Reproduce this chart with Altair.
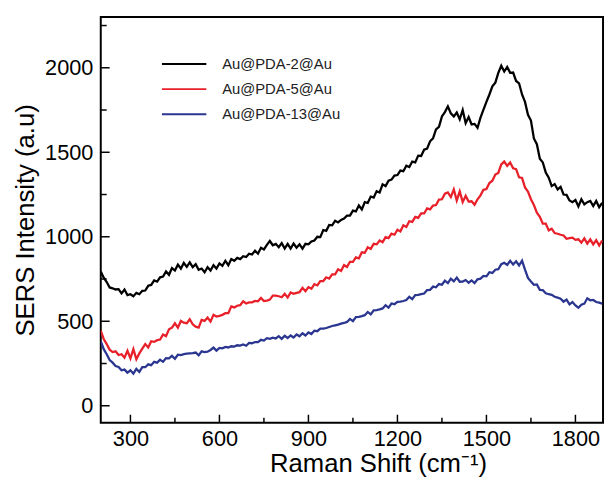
import altair as alt
import pandas as pd

x_start, x_step = 200, 10

black = [795, 758, 732, 700, 695, 688, 690, 665, 688, 655, 660, 648, 668, 660, 680, 682, 710, 715, 742, 735,
         760, 765, 795, 775, 815, 800, 835, 812, 845, 822, 848, 820, 838, 805, 812, 790, 820, 800, 832, 812,
         842, 828, 858, 832, 868, 858, 875, 868, 885, 880, 900, 895, 918, 900, 935, 925, 952, 975, 950, 958,
         938, 962, 930, 958, 930, 960, 935, 955, 930, 958, 955, 972, 978, 1000, 998, 1040, 1035, 1070, 1068, 1095,
         1085, 1100, 1108, 1125, 1125, 1155, 1150, 1185, 1162, 1205, 1200, 1238, 1232, 1270, 1262, 1310, 1300, 1332, 1338, 1362,
         1365, 1392, 1388, 1420, 1412, 1445, 1440, 1480, 1478, 1515, 1522, 1565, 1582, 1635, 1650, 1712, 1738, 1772, 1730, 1712,
         1735, 1695, 1750, 1672, 1708, 1665, 1668, 1645, 1705, 1752, 1798, 1842, 1890, 1912, 1970, 2012, 1978, 2005, 1970, 1972,
         1922, 1908, 1842, 1798, 1722, 1688, 1582, 1548, 1462, 1440, 1380, 1350, 1300, 1312, 1280, 1295, 1250, 1248, 1215, 1205,
         1218, 1180, 1222, 1192, 1205, 1212, 1182, 1212, 1175, 1200]

red = [445, 395, 365, 332, 318, 322, 300, 305, 285, 325, 280, 335, 275, 310, 338, 365, 345, 382, 378, 388,
       392, 422, 412, 452, 462, 488, 462, 502, 492, 488, 512, 482, 468, 462, 508, 502, 522, 498, 538, 528,
       532, 538, 548, 548, 588, 582, 592, 595, 618, 605, 612, 612, 620, 618, 638, 620, 622, 628, 652, 652,
       648, 642, 662, 640, 670, 662, 668, 672, 698, 678, 702, 692, 720, 712, 738, 738, 760, 752, 778, 778,
       808, 798, 832, 822, 852, 852, 878, 872, 908, 905, 938, 928, 958, 955, 978, 968, 998, 992, 1018, 1012,
       1042, 1032, 1068, 1058, 1092, 1088, 1118, 1112, 1138, 1138, 1168, 1162, 1185, 1188, 1220, 1222, 1255, 1262, 1235, 1280,
       1215, 1268, 1205, 1242, 1208, 1210, 1190, 1222, 1245, 1278, 1282, 1318, 1332, 1368, 1378, 1428, 1445, 1420, 1440, 1405,
       1400, 1352, 1348, 1292, 1268, 1222, 1188, 1142, 1118, 1078, 1078, 1038, 1048, 1022, 1018, 1012, 1008, 988, 992, 995,
       982, 985, 965, 990, 960, 985, 955, 980, 948, 978]

blue = [382, 335, 305, 270, 255, 235, 230, 210, 214, 196, 210, 190, 218, 200, 228, 228, 245, 240, 260, 255,
        272, 260, 282, 280, 295, 278, 302, 300, 305, 308, 310, 312, 315, 298, 322, 318, 320, 330, 344, 326,
        342, 340, 348, 345, 352, 350, 358, 356, 363, 355, 372, 370, 377, 376, 390, 386, 400, 396, 403, 398,
        412, 396, 414, 401, 416, 404, 422, 411, 429, 416, 434, 424, 444, 441, 456, 456, 460, 466, 472, 476,
        480, 486, 490, 496, 514, 501, 525, 526, 530, 536, 555, 541, 565, 566, 570, 576, 595, 581, 605, 601,
        615, 616, 620, 626, 645, 631, 655, 656, 660, 664, 685, 686, 705, 701, 720, 716, 740, 726, 752, 736,
        758, 734, 735, 744, 728, 742, 726, 748, 752, 768, 766, 790, 786, 805, 808, 838, 846, 834, 858, 836,
        855, 830, 858, 805, 756, 735, 716, 718, 686, 684, 666, 660, 656, 645, 640, 634, 616, 628, 600, 614,
        594, 580, 598, 604, 636, 624, 626, 614, 610, 604]

series_names = ["Au@PDA-2@Au", "Au@PDA-5@Au", "Au@PDA-13@Au"]
series_colors = ["#000000", "#e8202a", "#2b3690"]

x_major = [300, 600, 900, 1200, 1500, 1800]
x_minor = [450, 750, 1050, 1350, 1650]
y_major = [0, 500, 1000, 1500, 2000]
y_minor = [250, 750, 1250, 1750, 2250]

rows = []
for name, vals in zip(series_names, [black, red, blue]):
    for i, v in enumerate(vals):
        rows.append({"shift": x_start + i * x_step, "intensity": v, "sample": name})
df = pd.DataFrame(rows)

W, H = 509, 411
xs = alt.Scale(domain=[200, 1893], nice=False, zero=False)
ys = alt.Scale(domain=[-100, 2300], nice=False, zero=False)

lines = alt.Chart(df).mark_line(strokeWidth=2.3, clip=True).encode(
    x=alt.X("shift:Q", scale=xs,
            axis=alt.Axis(values=x_major, format="d", title="Raman Shift (cm⁻¹)", ticks=False, tickSize=0,
                          domain=False, grid=False, labelPadding=6, titlePadding=2,
                          titleX=281)),
    y=alt.Y("intensity:Q", scale=ys,
            axis=alt.Axis(values=y_major, format="d", title="SERS Intensity (a.u)", ticks=False, tickSize=0,
                          domain=False, grid=False, labelPadding=8, titlePadding=6)),
    color=alt.Color("sample:N", sort=series_names,
                    scale=alt.Scale(domain=series_names, range=series_colors),
                    legend=alt.Legend(title=None, orient="none", legendX=61, legendY=39,
                                      symbolType="M-1,0H5", symbolSize=225, symbolStrokeWidth=2,
                                      symbolFillColor="transparent",
                                      labelFontSize=15, labelFont="Liberation Sans", labelColor="#222222",
                                      labelOffset=45, rowPadding=8.5, padding=0)),
    order=alt.Order("shift:Q"),
)

xmaj = pd.DataFrame({"v": x_major})
xmin = pd.DataFrame({"v": x_minor})
ymaj = pd.DataFrame({"v": y_major})
ymin = pd.DataFrame({"v": y_minor})

tick_x_major = alt.Chart(xmaj).mark_rule(color="black", strokeWidth=1.5).encode(
    x=alt.X("v:Q", scale=xs), y=alt.value(H), y2=alt.value(H - 8))
tick_x_minor = alt.Chart(xmin).mark_rule(color="black", strokeWidth=1.5).encode(
    x=alt.X("v:Q", scale=xs), y=alt.value(H), y2=alt.value(H - 5))
tick_y_major = alt.Chart(ymaj).mark_rule(color="black", strokeWidth=1.5).encode(
    y=alt.Y("v:Q", scale=ys), x=alt.value(0), x2=alt.value(9))
tick_y_minor = alt.Chart(ymin).mark_rule(color="black", strokeWidth=1.5).encode(
    y=alt.Y("v:Q", scale=ys), x=alt.value(0), x2=alt.value(6))

chart = alt.layer(lines, tick_x_major, tick_x_minor, tick_y_major, tick_y_minor).properties(
    width=W, height=H,
    autosize=alt.AutoSizeParams(type="none"),
    padding={"left": 94, "top": 6, "right": 2, "bottom": 62},
).configure_view(
    stroke="black", strokeWidth=2
).configure_axis(
    labelFont="Liberation Sans", titleFont="Liberation Sans",
    labelFontSize=22, titleFontSize=26, labelColor="black", titleColor="black",
    titleFontWeight="normal",
)

chart.save("out.html", embed_options={"renderer": "svg", "actions": False})
